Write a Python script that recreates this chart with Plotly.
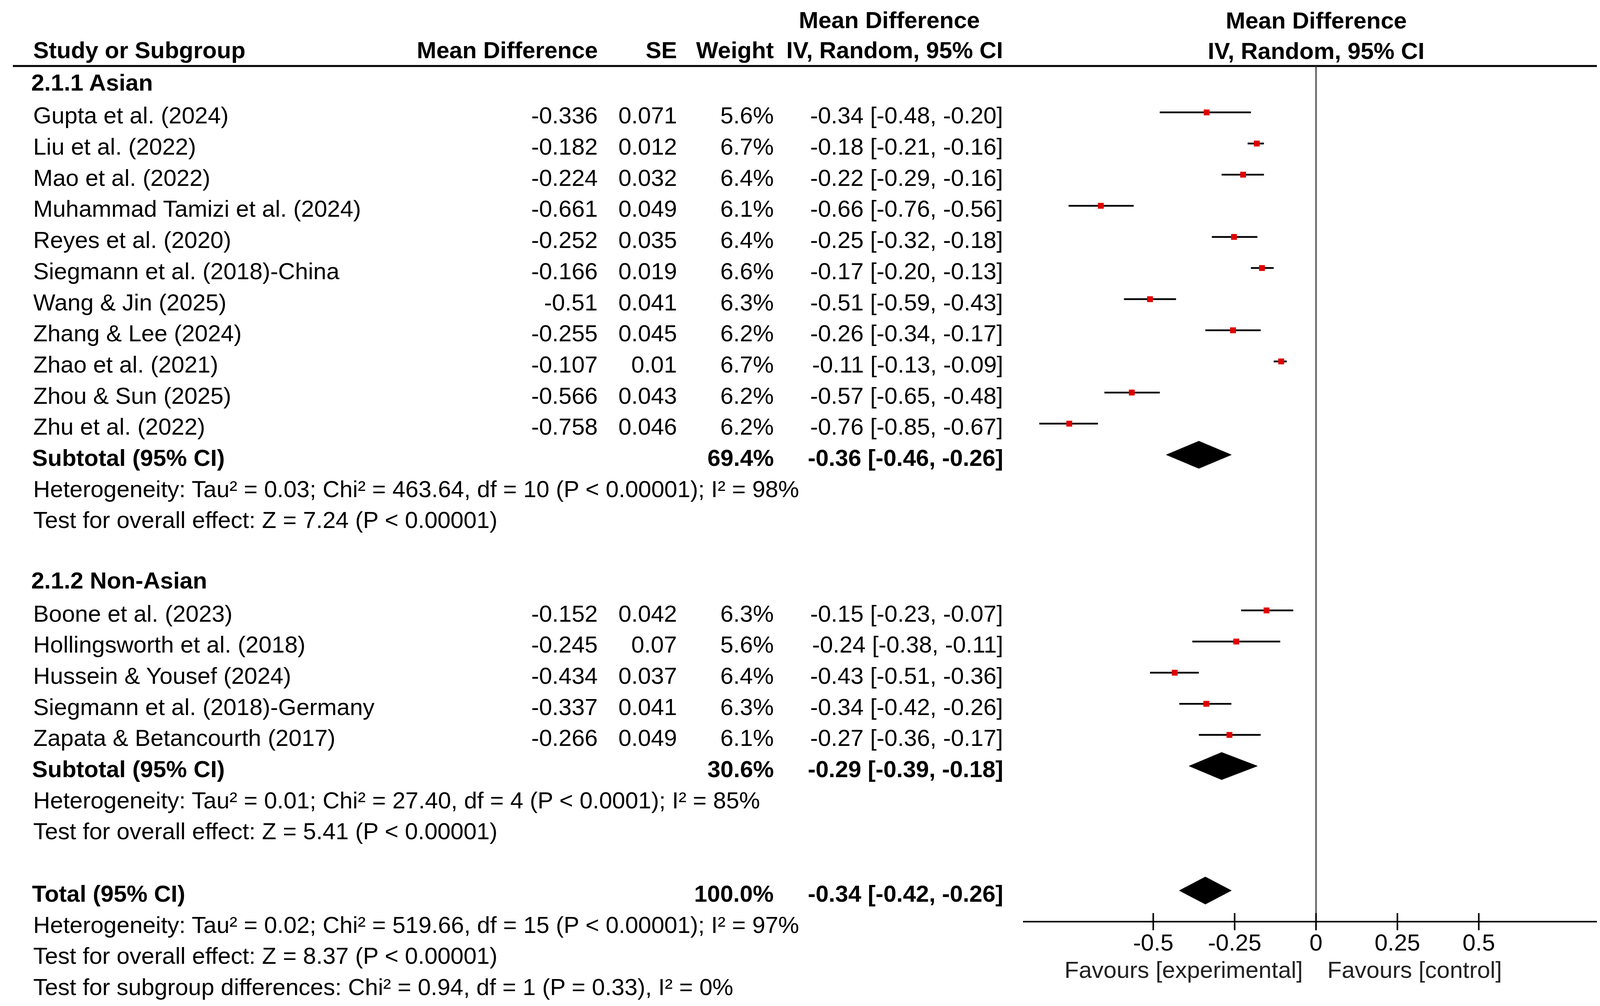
import plotly.graph_objects as go

W, H = 4191, 2576

# ---- data ----
asian_names = [
    "Gupta et al. (2024)", "Liu et al. (2022)", "Mao et al. (2022)",
    "Muhammad Tamizi et al. (2024)", "Reyes et al. (2020)",
    "Siegmann et al. (2018)-China", "Wang & Jin (2025)", "Zhang & Lee (2024)",
    "Zhao et al. (2021)", "Zhou & Sun (2025)", "Zhu et al. (2022)",
]
asian_md = [-0.336, -0.182, -0.224, -0.661, -0.252, -0.166, -0.51, -0.255, -0.107, -0.566, -0.758]
asian_se = [0.071, 0.012, 0.032, 0.049, 0.035, 0.019, 0.041, 0.045, 0.01, 0.043, 0.046]
asian_weight = [5.6, 6.7, 6.4, 6.1, 6.4, 6.6, 6.3, 6.2, 6.7, 6.2, 6.2]
asian_est = [-0.34, -0.18, -0.22, -0.66, -0.25, -0.17, -0.51, -0.26, -0.11, -0.57, -0.76]
asian_lo = [-0.48, -0.21, -0.29, -0.76, -0.32, -0.20, -0.59, -0.34, -0.13, -0.65, -0.85]
asian_hi = [-0.20, -0.16, -0.16, -0.56, -0.18, -0.13, -0.43, -0.17, -0.09, -0.48, -0.67]

nonasian_names = [
    "Boone et al. (2023)", "Hollingsworth et al. (2018)", "Hussein & Yousef (2024)",
    "Siegmann et al. (2018)-Germany", "Zapata & Betancourth (2017)",
]
nonasian_md = [-0.152, -0.245, -0.434, -0.337, -0.266]
nonasian_se = [0.042, 0.07, 0.037, 0.041, 0.049]
nonasian_weight = [6.3, 5.6, 6.4, 6.3, 6.1]
nonasian_est = [-0.15, -0.24, -0.43, -0.34, -0.27]
nonasian_lo = [-0.23, -0.38, -0.51, -0.42, -0.36]
nonasian_hi = [-0.07, -0.11, -0.36, -0.26, -0.17]

# pooled: [Asian subtotal, Non-Asian subtotal, Total]
pooled_labels = ["Subtotal (95% CI)", "Subtotal (95% CI)", "Total (95% CI)"]
pooled_weight = [69.4, 30.6, 100.0]
pooled_est = [-0.36, -0.29, -0.34]
pooled_lo = [-0.46, -0.39, -0.42]
pooled_hi = [-0.26, -0.18, -0.26]

het_asian = "Heterogeneity: Tau² = 0.03; Chi² = 463.64, df = 10 (P &lt; 0.00001); I² = 98%"
z_asian = "Test for overall effect: Z = 7.24 (P &lt; 0.00001)"
het_nonasian = "Heterogeneity: Tau² = 0.01; Chi² = 27.40, df = 4 (P &lt; 0.0001); I² = 85%"
z_nonasian = "Test for overall effect: Z = 5.41 (P &lt; 0.00001)"
het_total = "Heterogeneity: Tau² = 0.02; Chi² = 519.66, df = 15 (P &lt; 0.00001); I² = 97%"
z_total = "Test for overall effect: Z = 8.37 (P &lt; 0.00001)"
subgroup_test = "Test for subgroup differences: Chi² = 0.94, df = 1 (P = 0.33), I² = 0%"

tick_vals = [-0.5, -0.25, 0, 0.25, 0.5]
tick_text = ["-0.5", "-0.25", "0", "0.25", "0.5"]
x_range = [-0.9, 0.9]

# ---- layout helpers (pixels -> paper / row units) ----
ROW0, ROWH = 215.3, 79.7          # pixel centre of row 0 and row height
FONT = "Liberation Sans, Arial, sans-serif"
FS = 60
MARK_OFF = -0.19                  # graphics sit slightly above the text line
TXT_OFF = -0.09                   # annotation boxes render a little low


def px(x):
    return x / W


def py(y):
    return 1 - y / H


def row_of(ypx):
    return (ypx - ROW0) / ROWH


COL_NAME, COL_MD, COL_SE, COL_W, COL_CI = 75, 1524, 1727, 1975, 2562

annotations = []


def text(x, row, s, anchor="left", bold=False, xref="paper", color="black"):
    annotations.append(dict(
        x=px(x) if xref == "paper" else x, xref=xref, y=row + TXT_OFF, yref="y",
        text=f"<b>{s}</b>" if bold else s,
        showarrow=False, xanchor=anchor, yanchor="middle",
        font=dict(family=FONT, size=FS, color=color),
    ))


# headers
text(2268, -2.07, "Mean Difference", "center", True)
text(COL_NAME, -1.095, "Study or Subgroup", "left", True)
text(COL_MD, -1.095, "Mean Difference", "right", True)
text(COL_SE, -1.095, "SE", "right", True)
text(COL_W, -1.095, "Weight", "right", True)
text(COL_CI, -1.095, "IV, Random, 95% CI", "right", True)
text(0, -2.05, "Mean Difference", "center", True, xref="x")
text(0, -1.07, "IV, Random, 95% CI", "center", True, xref="x")

groups = [
    ("2.1.1 Asian", asian_names, asian_md, asian_se, asian_weight, asian_est, asian_lo, asian_hi,
     het_asian, z_asian),
    ("2.1.2 Non-Asian", nonasian_names, nonasian_md, nonasian_se, nonasian_weight, nonasian_est,
     nonasian_lo, nonasian_hi, het_nonasian, z_nonasian),
]

study_rows, study_md, ci_x, ci_y = [], [], [], []
pooled_rows = []
row = 0
for label, names, md, se, wt, est, lo, hi, het, zt in groups:
    text(COL_NAME - 5, row - 0.06, label, bold=True)
    row += 1
    for i in range(len(names)):
        text(COL_NAME, row, names[i])
        text(COL_MD, row, str(md[i]), "right")
        text(COL_SE, row, str(se[i]), "right")
        text(COL_W, row, f"{wt[i]:.1f}%", "right")
        text(COL_CI, row, f"{est[i]:.2f} [{lo[i]:.2f}, {hi[i]:.2f}]", "right")
        study_rows.append(row + MARK_OFF)
        study_md.append(md[i])
        ci_x += [lo[i], hi[i], None]
        ci_y += [row + MARK_OFF, row + MARK_OFF, None]
        row += 1
    pooled_rows.append(row)
    row += 1
    text(COL_NAME, row, het)
    text(COL_NAME, row + 1, zt)
    row += 3
pooled_rows.append(row)

for k, r in enumerate(pooled_rows):
    text(COL_NAME - 3, r, pooled_labels[k], bold=True)
    text(COL_W, r, f"{pooled_weight[k]:.1f}%", "right", True)
    text(COL_CI, r, f"{pooled_est[k]:.2f} [{pooled_lo[k]:.2f}, {pooled_hi[k]:.2f}]", "right", True)
text(COL_NAME, row + 1, het_total)
text(COL_NAME, row + 2, z_total)
text(COL_NAME, row + 3, subgroup_test)

fav_row = row_of(2483)
text(3329, fav_row, "Favours [experimental]", "right", color="#222")
text(3388, fav_row, "Favours [control]", "left", color="#222")

fig = go.Figure()

# confidence intervals
fig.add_trace(go.Scatter(x=ci_x, y=ci_y, mode="lines", line=dict(color="black", width=4.5),
                         hoverinfo="skip", showlegend=False))
# point estimates
fig.add_trace(go.Scatter(x=study_md, y=study_rows, mode="markers",
                         marker=dict(symbol="square", size=15, color="#e00000", line=dict(width=0)),
                         showlegend=False))

# pooled diamonds
dx, dy = [], []
half = 35 / ROWH
for k, r in enumerate(pooled_rows):
    rr = r + MARK_OFF
    dx += [pooled_lo[k], pooled_est[k], pooled_hi[k], pooled_est[k], pooled_lo[k], None]
    dy += [rr, rr - half, rr, rr + half, rr, None]
fig.add_trace(go.Scatter(x=dx, y=dy, mode="lines", fill="toself", fillcolor="black",
                         line=dict(color="black", width=1), hoverinfo="skip", showlegend=False))

axis_y = 2352
shapes = [
    dict(type="line", xref="paper", yref="paper", x0=px(25), x1=px(4162), y0=py(161), y1=py(161),
         line=dict(color="black", width=5)),
    dict(type="line", xref="x", yref="paper", x0=0, x1=0, y0=py(axis_y), y1=py(161),
         line=dict(color="#333", width=3)),
]
# tick marks crossing the axis line
for t in tick_vals:
    shapes.append(dict(type="line", xref="x", yref="paper", x0=t, x1=t,
                       y0=py(axis_y + 22), y1=py(axis_y - 22),
                       line=dict(color="black", width=4)))

fig.update_layout(
    width=W, height=H, margin=dict(l=0, r=0, t=0, b=0),
    paper_bgcolor="white", plot_bgcolor="white",
    showlegend=False, annotations=annotations, shapes=shapes,
    xaxis=dict(domain=[px(2611), px(4111)], range=x_range, anchor="free", position=py(axis_y),
               showgrid=False, zeroline=False, showline=True, linecolor="black", linewidth=4,
               ticks="", tickmode="array", tickvals=tick_vals, ticktext=tick_text,
               tickfont=dict(family=FONT, size=FS, color="black")),
    yaxis=dict(domain=[0, 1], range=[row_of(H), row_of(0)], autorange=False, visible=False,
               showgrid=False, zeroline=False),
)

fig.write_html("out.html")
